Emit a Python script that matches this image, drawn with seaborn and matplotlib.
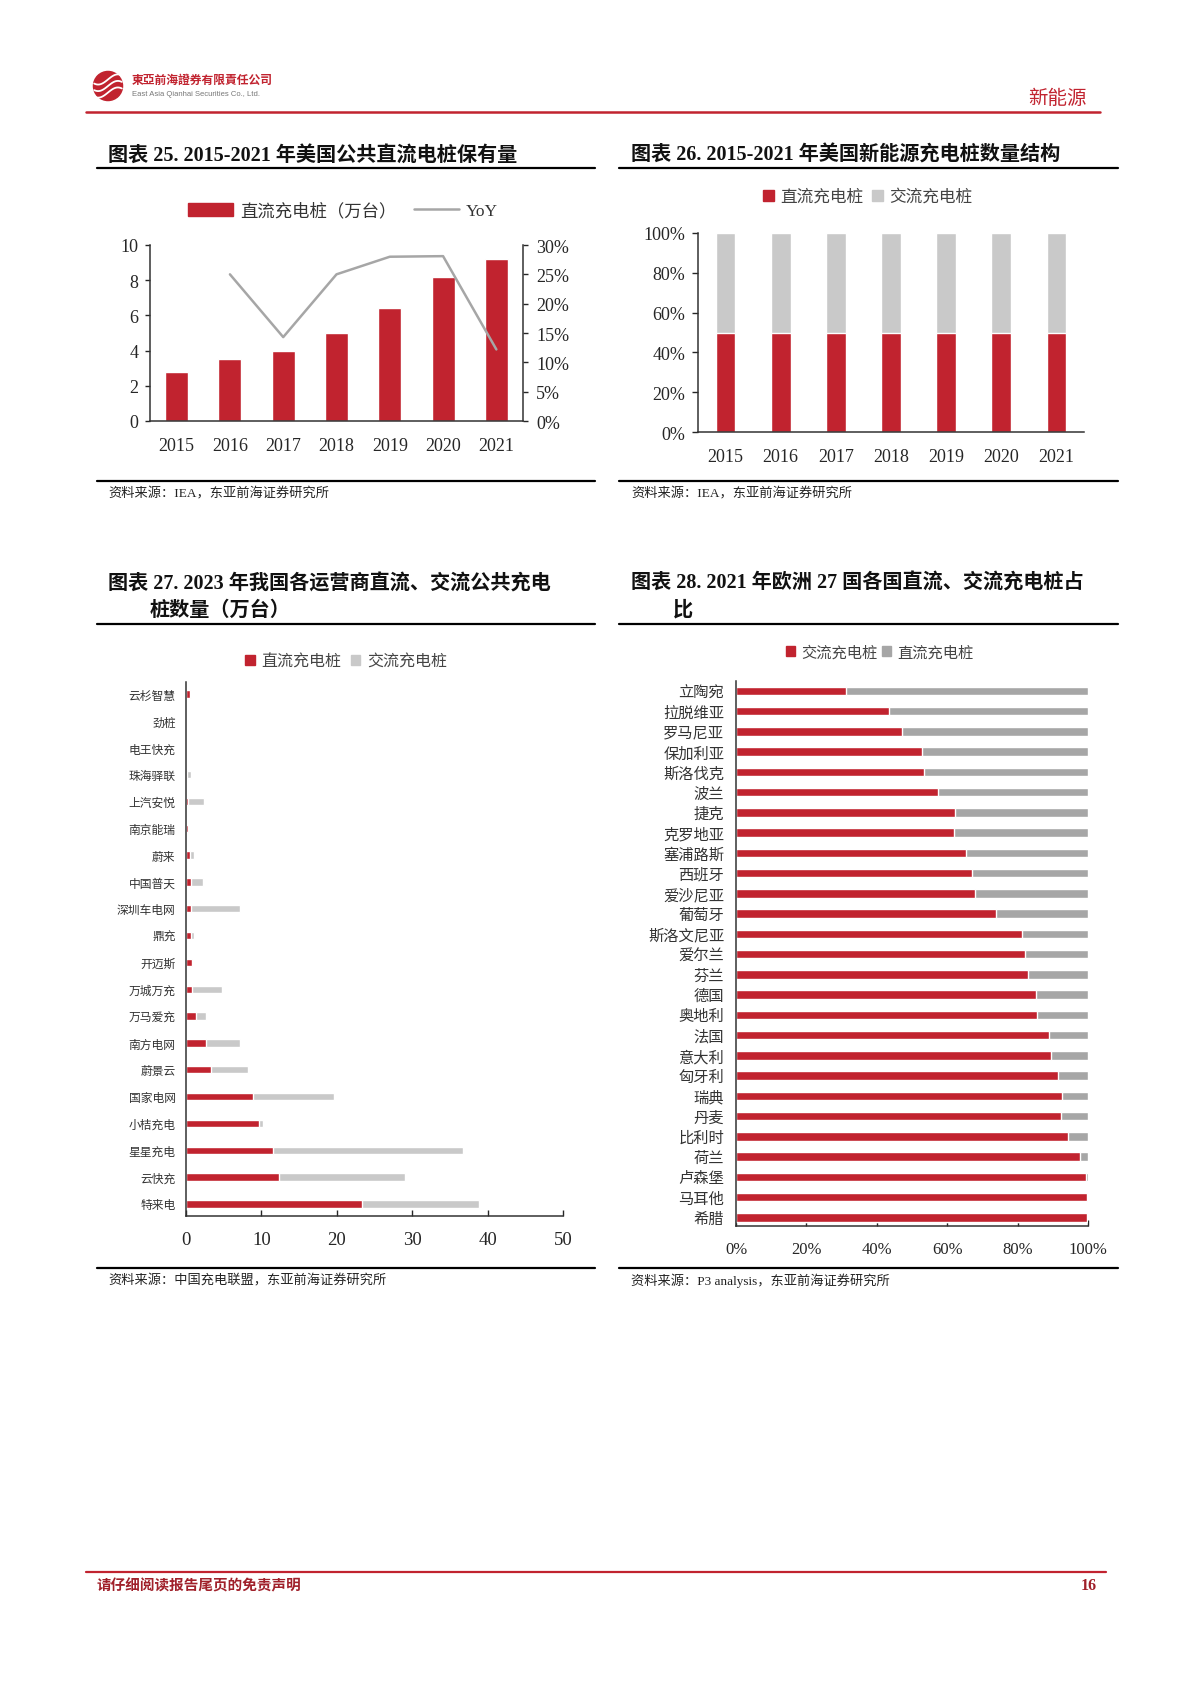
import numpy as np
import pandas as pd
import seaborn as sns
import matplotlib.pyplot as plt
from matplotlib.patches import Circle, Patch
from matplotlib.lines import Line2D

# ---- data ----
years = ['2015', '2016', '2017', '2018', '2019', '2020', '2021']
dc_us = [2.8, 3.5, 4.0, 5.0, 6.4, 8.2, 9.2]          # 万台
yoy_us = [np.nan, 25.0, 14.3, 25.0, 28.0, 28.1, 12.2]  # %

dc_share_us = [50, 50, 50, 50, 50, 50, 50]
ac_share_us = [50, 50, 50, 50, 50, 50, 50]

operators = ['云杉智慧', '劲桩', '电王快充', '珠海驿联', '上汽安悦', '南京能瑞', '蔚来',
             '中国普天', '深圳车电网', '鼎充', '开迈斯', '万城万充', '万马爱充', '南方电网',
             '蔚景云', '国家电网', '小桔充电', '星星充电', '云快充', '特来电']
op_dc = [0.5, 0.0, 0.0, 0.1, 0.2, 0.3, 0.5, 0.6, 0.7, 0.7, 0.8, 0.8, 1.3, 2.7,
         3.3, 8.9, 9.7, 11.6, 12.4, 23.3]
op_ac = [0.2, 0.0, 0.0, 0.5, 2.2, 0.0, 0.5, 1.6, 6.5, 0.4, 0.0, 4.0, 1.4, 4.5,
         4.9, 10.7, 0.5, 25.2, 16.6, 15.5]

countries = ['立陶宛', '拉脱维亚', '罗马尼亚', '保加利亚', '斯洛伐克', '波兰', '捷克',
             '克罗地亚', '塞浦路斯', '西班牙', '爱沙尼亚', '葡萄牙', '斯洛文尼亚', '爱尔兰',
             '芬兰', '德国', '奥地利', '法国', '意大利', '匈牙利', '瑞典', '丹麦', '比利时',
             '荷兰', '卢森堡', '马耳他', '希腊']
eu_ac = [31.2, 43.5, 47.3, 52.9, 53.5, 57.5, 62.2, 62.0, 65.3, 67.1, 68.0, 73.9, 81.3,
         82.1, 83.0, 85.1, 85.5, 88.8, 89.6, 91.4, 92.5, 92.4, 94.4, 97.8, 99.5, 99.8, 99.7]
eu_dc = [68.8, 56.5, 52.7, 47.1, 46.5, 42.5, 37.8, 38.0, 34.7, 32.9, 32.0, 26.1, 18.7,
         17.9, 17.0, 14.9, 14.5, 11.2, 10.4, 8.6, 7.5, 7.6, 5.6, 2.2, 0.5, 0.2, 0.3]

RED = '#C1232F'
GREY = '#C9C9C9'
DGREY = '#A6A6A6'
SPINE = '#333333'
W, H = 1190, 1683

sns.set_style('white')
plt.rcParams['font.family'] = ['Liberation Serif', 'Noto Sans CJK SC']
plt.rcParams['axes.unicode_minus'] = False

fig = plt.figure(figsize=(W / 100, H / 100), dpi=100)


def box(l, t, r, b):
    return [l / W, 1 - b / H, (r - l) / W, (b - t) / H]


def ftext(x, y, s, **kw):
    fig.text(x / W, 1 - y / H, s, **kw)


def hline(x0, x1, y, color='black', lw=1.6):
    fig.add_artist(Line2D([x0 / W, x1 / W], [1 - y / H, 1 - y / H], color=color, lw=lw))


def style_axes(ax):
    for s in ax.spines.values():
        s.set_color(SPINE)
        s.set_linewidth(1.1)
    ax.set_xlabel('')
    ax.set_ylabel('')


# ---- page header / footer ----
lg = fig.add_axes(box(92, 70, 124, 104))
lg.add_patch(Circle((0, 0), 1, color=RED))
t = np.linspace(-1, 1, 50)
for off in [-0.45, 0.0, 0.45]:
    lg.plot(t * 0.95, off + 0.35 * np.sin(t * 2.2), color='white', lw=1.3)
lg.set_xlim(-1.1, 1.1)
lg.set_ylim(-1.1, 1.1)
lg.set_aspect('equal')
lg.axis('off')
ftext(132, 81, '東亞前海證券有限責任公司', fontsize=8.5, color=RED, weight='bold', va='center')
ftext(132, 95, 'East Asia Qianhai Securities Co., Ltd.', fontsize=5.5, color='#777777',
      va='center', family=['Liberation Sans', 'Noto Sans CJK SC'])
ftext(1087, 99, '新能源', fontsize=14, color=RED, ha='right', va='center')
hline(86, 1100, 113, color=RED, lw=1.8)

hline(86, 1106, 1573, color=RED, lw=1.6)
ftext(97, 1586, '请仔细阅读报告尾页的免责声明', fontsize=10.5, color='#A0202A', weight='bold', va='center')
ftext(1097, 1586, '16', fontsize=11.5, color='#A0202A', weight='bold', ha='right', va='center')

# ---- panel titles / sources ----
tkw = dict(fontsize=14.5, weight='bold', va='center', color='#111111')
ftext(108, 156, '图表 25. 2015-2021 年美国公共直流电桩保有量', **tkw)
ftext(631, 156, '图表 26. 2015-2021 年美国新能源充电桩数量结构', **tkw)
hline(97, 595, 169)
hline(619, 1118, 169)
hline(97, 595, 482)
hline(619, 1118, 482)
skw = dict(fontsize=9.5, va='center', color='#222222')
ftext(108, 494, '资料来源：IEA，东亚前海证券研究所', **skw)
ftext(631, 494, '资料来源：IEA，东亚前海证券研究所', **skw)

ftext(108, 584, '图表 27. 2023 年我国各运营商直流、交流公共充电', **tkw)
ftext(150, 611, '桩数量（万台）', **tkw)
ftext(631, 584, '图表 28. 2021 年欧洲 27 国各国直流、交流充电桩占', **tkw)
ftext(673, 611, '比', **tkw)
hline(97, 595, 625)
hline(619, 1118, 625)
hline(97, 595, 1269)
hline(619, 1118, 1269)
ftext(108, 1281, '资料来源：中国充电联盟，东亚前海证券研究所', **skw)
ftext(631, 1281, '资料来源：P3 analysis，东亚前海证券研究所', **skw)

# ---- chart 25 ----
ax1 = fig.add_axes(box(150, 246, 523, 422))
df25 = pd.DataFrame({'year': years, 'dc': dc_us, 'yoy': yoy_us})
sns.barplot(data=df25, x='year', y='dc', color=RED, width=0.43, saturation=1, ax=ax1)
ax1.set_ylim(0, 10)
ax1.set_yticks(range(0, 11, 2))
ax1.set_xlim(-0.5, 6.5)
style_axes(ax1)
ax1.spines['top'].set_visible(False)
ax1.spines['right'].set_visible(False)
ax1.tick_params(axis='y', left=True, direction='out', length=3.5, width=1, pad=5, labelsize=13)
ax1.tick_params(axis='x', bottom=False, pad=8, labelsize=13)
ax2 = ax1.twinx()
pos = np.arange(len(years))
ax2.plot(pos, df25['yoy'], color=DGREY, lw=1.8)
ax2.set_ylim(0, 30)
ax2.set_yticks(range(0, 31, 5))
ax2.set_yticklabels([f'{v}%' for v in range(0, 31, 5)])
style_axes(ax2)
for s in ['top', 'left', 'bottom']:
    ax2.spines[s].set_visible(False)
ax2.tick_params(axis='y', right=True, direction='out', length=3.5, width=1, pad=6, labelsize=13)
fig.legend(handles=[Patch(color=RED, label='直流充电桩（万台）'),
                    Line2D([], [], color=DGREY, lw=1.8, label='YoY')],
           loc='center', bbox_to_anchor=(343 / W, 1 - 212 / H), ncol=2, frameon=False,
           fontsize=12.5, handlelength=2.6, handleheight=0.75, columnspacing=1.0,
           handletextpad=0.4, labelcolor='#333333')

# ---- chart 26 ----
ax3 = fig.add_axes(box(698, 234, 1084, 433))
df26 = pd.DataFrame({'year': years, 'dc': dc_share_us, 'ac': ac_share_us})
df26['total'] = df26['dc'] + df26['ac']
sns.barplot(data=df26, x='year', y='total', color=GREY, width=0.36, saturation=1, ax=ax3)
sns.barplot(data=df26, x='year', y='dc', color=RED, width=0.36, saturation=1, ax=ax3)
ax3.set_ylim(0, 100)
ax3.set_yticks(range(0, 101, 20))
ax3.set_yticklabels([f'{v}%' for v in range(0, 101, 20)])
ax3.set_xlim(-0.5, 6.5)
style_axes(ax3)
ax3.spines['top'].set_visible(False)
ax3.spines['right'].set_visible(False)
ax3.tick_params(axis='y', left=True, direction='out', length=4, width=1, pad=5, labelsize=13)
ax3.tick_params(axis='x', bottom=False, pad=8, labelsize=13)
fig.legend(handles=[Patch(color=RED, label='直流充电桩'), Patch(color=GREY, label='交流充电桩')],
           loc='center', bbox_to_anchor=(868 / W, 1 - 198 / H), ncol=2, frameon=False,
           fontsize=12, handlelength=0.65, handleheight=0.65, columnspacing=0.5,
           handletextpad=0.4, labelcolor='#444444')

# ---- chart 27 ----
ax4 = fig.add_axes(box(186, 683, 563, 1217))
df27 = pd.DataFrame({'op': operators, 'dc': op_dc, 'ac': op_ac})
df27['total'] = df27['dc'] + df27['ac']
sns.barplot(data=df27, y='op', x='total', color=GREY, width=0.27, saturation=1, orient='h', ax=ax4)
sns.barplot(data=df27, y='op', x='dc', color=RED, width=0.27, saturation=1, orient='h', ax=ax4)
ax4.set_xlim(0, 50)
ax4.set_xticks(range(0, 51, 10))
ax4.set_ylim(len(operators) - 0.55, -0.45)
style_axes(ax4)
ax4.spines['top'].set_visible(False)
ax4.spines['right'].set_visible(False)
ax4.tick_params(axis='x', bottom=True, direction='in', length=4, width=1, pad=11, labelsize=13.5)
ax4.tick_params(axis='y', left=False, pad=4, labelsize=8.5, labelcolor='#333333')
fig.legend(handles=[Patch(color=RED, label='直流充电桩'), Patch(color=GREY, label='交流充电桩')],
           loc='center', bbox_to_anchor=(346 / W, 1 - 663 / H), ncol=2, frameon=False,
           fontsize=11.5, handlelength=0.6, handleheight=0.6, columnspacing=0.6,
           handletextpad=0.4, labelcolor='#444444')

# ---- chart 28 ----
ax5 = fig.add_axes(box(736, 682, 1088, 1227))
df28 = pd.DataFrame({'country': countries, 'ac': eu_ac, 'dc': eu_dc})
df28['total'] = df28['ac'] + df28['dc']
sns.barplot(data=df28, y='country', x='total', color=DGREY, width=0.42, saturation=1, orient='h', ax=ax5)
sns.barplot(data=df28, y='country', x='ac', color=RED, width=0.42, saturation=1, orient='h', ax=ax5)
ax5.set_xlim(0, 100)
ax5.set_xticks(range(0, 101, 20))
ax5.set_xticklabels([f'{v}%' for v in range(0, 101, 20)])
ax5.set_ylim(len(countries) - 0.57, -0.49)
style_axes(ax5)
ax5.spines['top'].set_visible(False)
ax5.spines['right'].set_visible(False)
ax5.tick_params(axis='x', bottom=True, direction='in', length=4, width=1, pad=11, labelsize=12)
ax5.tick_params(axis='y', left=False, pad=5, labelsize=11, labelcolor='#333333')
fig.legend(handles=[Patch(color=RED, label='交流充电桩'), Patch(color=DGREY, label='直流充电桩')],
           loc='center', bbox_to_anchor=(880 / W, 1 - 653 / H), ncol=2, frameon=False,
           fontsize=11, handlelength=0.6, handleheight=0.6, columnspacing=0.3,
           handletextpad=0.4, labelcolor='#444444')

fig.savefig('out.png', dpi=100)
